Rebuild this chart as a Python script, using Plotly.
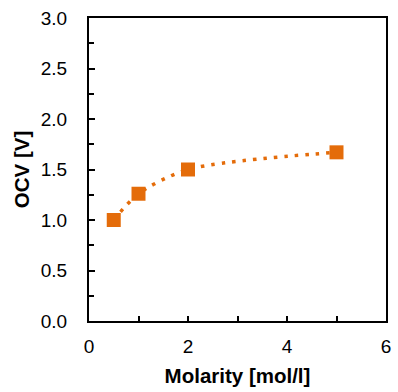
import plotly.graph_objects as go

# Open-circuit voltage versus electrolyte molarity
molarity = [0.5, 1.0, 2.0, 5.0]
ocv = [1.00, 1.26, 1.50, 1.67]

x_ticks = [0, 2, 4, 6]
y_ticks = [0.0, 0.5, 1.0, 1.5, 2.0, 2.5, 3.0]

orange = "#E46C0A"
font_family = "Liberation Sans, Arial, sans-serif"

fig = go.Figure()

# Smoothed dotted connecting line
fig.add_trace(go.Scatter(
    x=molarity, y=ocv, mode="lines",
    line=dict(color=orange, width=3.5, dash="3.5px,7px", shape="spline", smoothing=0.8),
    hoverinfo="skip", showlegend=False,
))

# Measured points
fig.add_trace(go.Scatter(
    x=molarity, y=ocv, mode="markers",
    marker=dict(symbol="square", size=14, color=orange),
    showlegend=False,
))

tick_font = dict(family=font_family, size=19, color="#000000")
title_font = dict(family=font_family, size=20.5, color="#000000")

fig.update_xaxes(
    range=[0, 6], tickvals=x_ticks, ticktext=[str(v) for v in x_ticks],
    ticks="inside", ticklen=5, tickwidth=1.5, tickcolor="#000000",
    minor=dict(dtick=1, ticks="inside", ticklen=5, tickwidth=1.5, tickcolor="#000000", showgrid=False),
    showline=True, linecolor="#000000", linewidth=2, mirror=True,
    showgrid=False, zeroline=False, tickfont=tick_font, ticklabelstandoff=7,
    title=dict(text="<b>Molarity [mol/l]</b>", font=title_font, standoff=13),
)
fig.update_yaxes(
    range=[0, 3], tickvals=y_ticks, ticktext=[f"{v:.1f}" for v in y_ticks],
    ticks="inside", ticklen=6, tickwidth=1.5, tickcolor="#000000",
    minor=dict(dtick=0.25, ticks="inside", ticklen=5, tickwidth=1.5, tickcolor="#000000", showgrid=False),
    showline=True, linecolor="#000000", linewidth=2, mirror=True,
    showgrid=False, zeroline=False, tickfont=tick_font, ticklabelstandoff=16,
    title=dict(text="<b>OCV [V]</b>", font=title_font, standoff=6),
)

fig.update_layout(
    width=398, height=392,
    margin=dict(l=89, r=7, t=18, b=71),
    paper_bgcolor="#FFFFFF", plot_bgcolor="#FFFFFF",
    showlegend=False,
)

fig.write_html("out.html")
